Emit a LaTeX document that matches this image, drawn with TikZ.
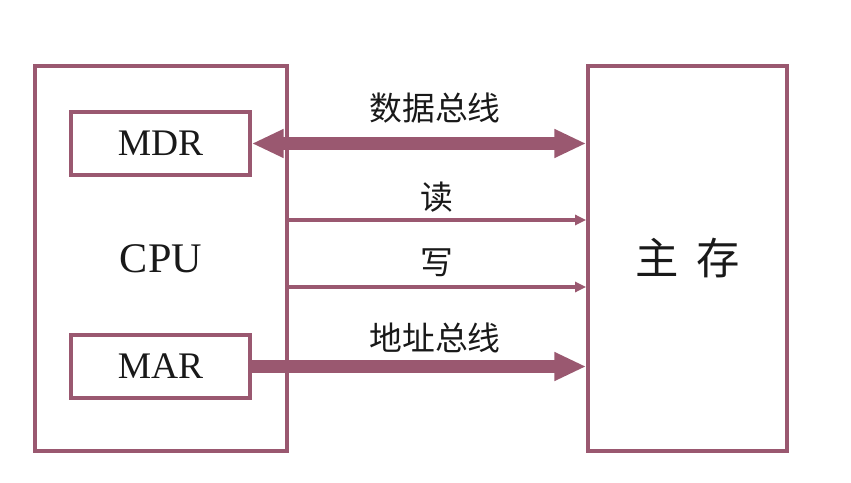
\documentclass[tikz,border=0pt]{standalone}
\usepackage{fontspec}
\setmainfont{Liberation Serif}
\newfontfamily\cjk{Noto Sans CJK SC}
\usetikzlibrary{arrows.meta,positioning}
\definecolor{busred}{HTML}{9A5870}

\begin{document}
\begin{tikzpicture}[
	x = 0.03cm, y = -0.03cm,
	every node/.style = {text=black!90},
	unit/.style = {draw=busred, line width=3.2pt, inner sep=0pt},
	reg/.style = {unit, minimum width=5.37cm, minimum height=1.89cm,
		font=\fontsize{32}{34}\selectfont},
	bus/.style = {busred, line width=11pt},
	ctl/.style = {busred, line width=2.8pt, -{Triangle[length=0.33cm,width=0.3cm]}},
	cn/.style = {font=\cjk\fontsize{28}{30}\selectfont}
	]
	\useasboundingbox (0,0) rectangle (851,483);
	\node[unit, minimum width=7.56cm, minimum height=11.55cm,
		font=\fontsize{36}{38}\selectfont] (cpu) at (161,258.5) {CPU};
	\node[unit, minimum width=5.97cm, minimum height=11.55cm,
		font=\cjk\fontsize{37}{39}\selectfont] (mem) at (687.5,258.5) {主\hspace{0.4em}存};
	\node[reg] (mdr) at (160.5,143.5) {MDR};
	\node[reg] (mar) at (160.5,366.5) {MAR};
	% buses
	\draw[bus, {Triangle[length=0.95cm,width=0.8cm]}-{Triangle[length=0.95cm,width=0.8cm]}]
		(mdr.east) -- (mdr.east -| mem.west);
	\draw[bus, -{Triangle[length=0.95cm,width=0.8cm]}]
		(mar.east) -- (mar.east -| mem.west);
	% control lines
	\draw[ctl] ([yshift=1.155cm]cpu.east) -- ([yshift=1.155cm]mem.west);
	\draw[ctl] ([yshift=-0.855cm]cpu.east) -- ([yshift=-0.855cm]mem.west);
	% labels
	\node[cn] (dbus) at (435,108) {数据总线};
	\node[cn] (rd) at (437,197) {读};
	\node[cn] (wr) at (437,263) {写};
	\node[cn] (abus) at (435,338) {地址总线};
\end{tikzpicture}
\end{document}
